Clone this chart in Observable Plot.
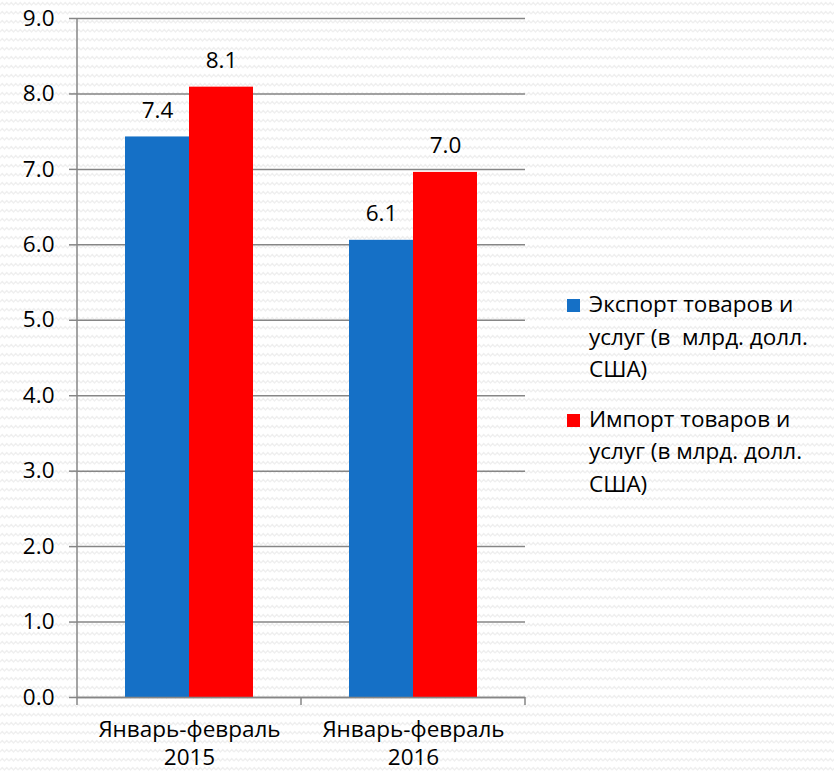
<!DOCTYPE html>
<html>
<head>
<meta charset="utf-8">
<script src="https://cdn.jsdelivr.net/npm/d3@7"></script>
<script src="https://cdn.jsdelivr.net/npm/@observablehq/plot@0.6"></script>
<style>
  body { margin: 0; background: #fff; }
  #wrap {
    position: relative; width: 834px; height: 774px; overflow: hidden;
    font-family: "Open Sans", sans-serif; color: #000;
    background-color: #fff;
    background-image: url("data:image/svg+xml,%3Csvg xmlns='http://www.w3.org/2000/svg' width='9' height='9'%3E%3Cpath d='M0 5 L2.25 2.5 L4.5 5 L6.75 2.5 L9 5' fill='none' stroke='%23efefef' stroke-width='1.4'/%3E%3C/svg%3E");
  }
  #legend {
    position: absolute; left: 567px; top: 288px;
    font-size: 22.5px; line-height: 32.5px;
  }
  .item { display: flex; align-items: flex-start; margin-bottom: 17px; }
  .swatch { width: 13px; height: 13px; margin-top: 11px; margin-right: 9px; flex: none; }
  .label { white-space: pre; }
</style>
</head>
<body>
<div id="wrap"></div>
<script>
// Periods on the category axis
const periods = ["Январь-февраль\n2015", "Январь-февраль\n2016"];
// Series names and colours
const seriesNames = [
  "Экспорт товаров и\nуслуг (в  млрд. долл.\nСША)",
  "Импорт товаров и\nуслуг (в млрд. долл.\nСША)"
];
const seriesColors = ["#1570c6", "#ff0000"];
// Values, billion US dollars
const exportValues = [7.43, 6.06];
const importValues = [8.09, 6.96];
// Value axis ticks
const yTicks = [0, 1, 2, 3, 4, 5, 6, 7, 8, 9];

const rows = periods.flatMap((p, i) => [
  {period: p, series: seriesNames[0], value: exportValues[i]},
  {period: p, series: seriesNames[1], value: importValues[i]}
]);

const gridColor = "#868686";
const fmt = d => d.toFixed(1);
const fontSize = 22.5;

const chart = Plot.plot({
  width: 834,
  height: 774,
  marginLeft: 77,
  marginRight: 309,
  marginTop: 18,
  marginBottom: 77,
  style: {background: "transparent", fontFamily: "Open Sans, sans-serif", color: "#000", overflow: "visible"},
  fx: {domain: periods, paddingInner: 0, paddingOuter: 0, label: null},
  x: {domain: seriesNames, paddingInner: 0, paddingOuter: 0.75, axis: null},
  y: {domain: [0, 9], label: null},
  color: {domain: seriesNames, range: seriesColors},
  marks: [
    Plot.gridY(yTicks, {stroke: gridColor, strokeOpacity: 1, strokeWidth: 1.5}),
    Plot.axisY(yTicks, {
      tickFormat: fmt, tickSize: 8, tickPadding: 15, stroke: gridColor, strokeWidth: 1.5,
      fontSize, fill: "#000", label: null
    }),
    Plot.barY(rows, {fx: "period", x: "series", y: "value", fill: "series"}),
    Plot.text(rows, {
      fx: "period", x: "series", y: "value", text: d => fmt(d.value),
      lineAnchor: "bottom", dy: -19, fontSize, fill: "#000"
    }),
    Plot.ruleY([0], {stroke: gridColor, strokeWidth: 1.5}),
    Plot.axisFx({
      anchor: "bottom", tickSize: 0, tickPadding: 20, fontSize, lineHeight: 1.24,
      fill: "#000", label: null
    })
  ]
});

// Value axis line and category boundary ticks, drawn from the chart's own scales
const fx = chart.scale("fx");
const y = chart.scale("y");
const svg = d3.select(chart);
const g = svg.append("g").attr("stroke", gridColor).attr("stroke-width", 1.5);
const xLeft = fx.apply(periods[0]);
const bounds = periods.map(p => fx.apply(p)).concat(fx.apply(periods[periods.length - 1]) + fx.bandwidth);
g.append("line")
  .attr("x1", xLeft).attr("x2", xLeft)
  .attr("y1", y.apply(9)).attr("y2", y.apply(0));
g.selectAll("line.tick").data(bounds).join("line").attr("class", "tick")
  .attr("x1", d => d).attr("x2", d => d)
  .attr("y1", y.apply(0)).attr("y2", y.apply(0) + 8);

const wrap = document.getElementById("wrap");
wrap.appendChild(chart);

// Legend
const legend = document.createElement("div");
legend.id = "legend";
seriesNames.forEach((name, i) => {
  const item = document.createElement("div");
  item.className = "item";
  const sw = document.createElement("span");
  sw.className = "swatch";
  sw.style.background = seriesColors[i];
  const lab = document.createElement("span");
  lab.className = "label";
  lab.textContent = name;
  item.append(sw, lab);
  legend.appendChild(item);
});
wrap.appendChild(legend);
</script>
</body>
</html>
